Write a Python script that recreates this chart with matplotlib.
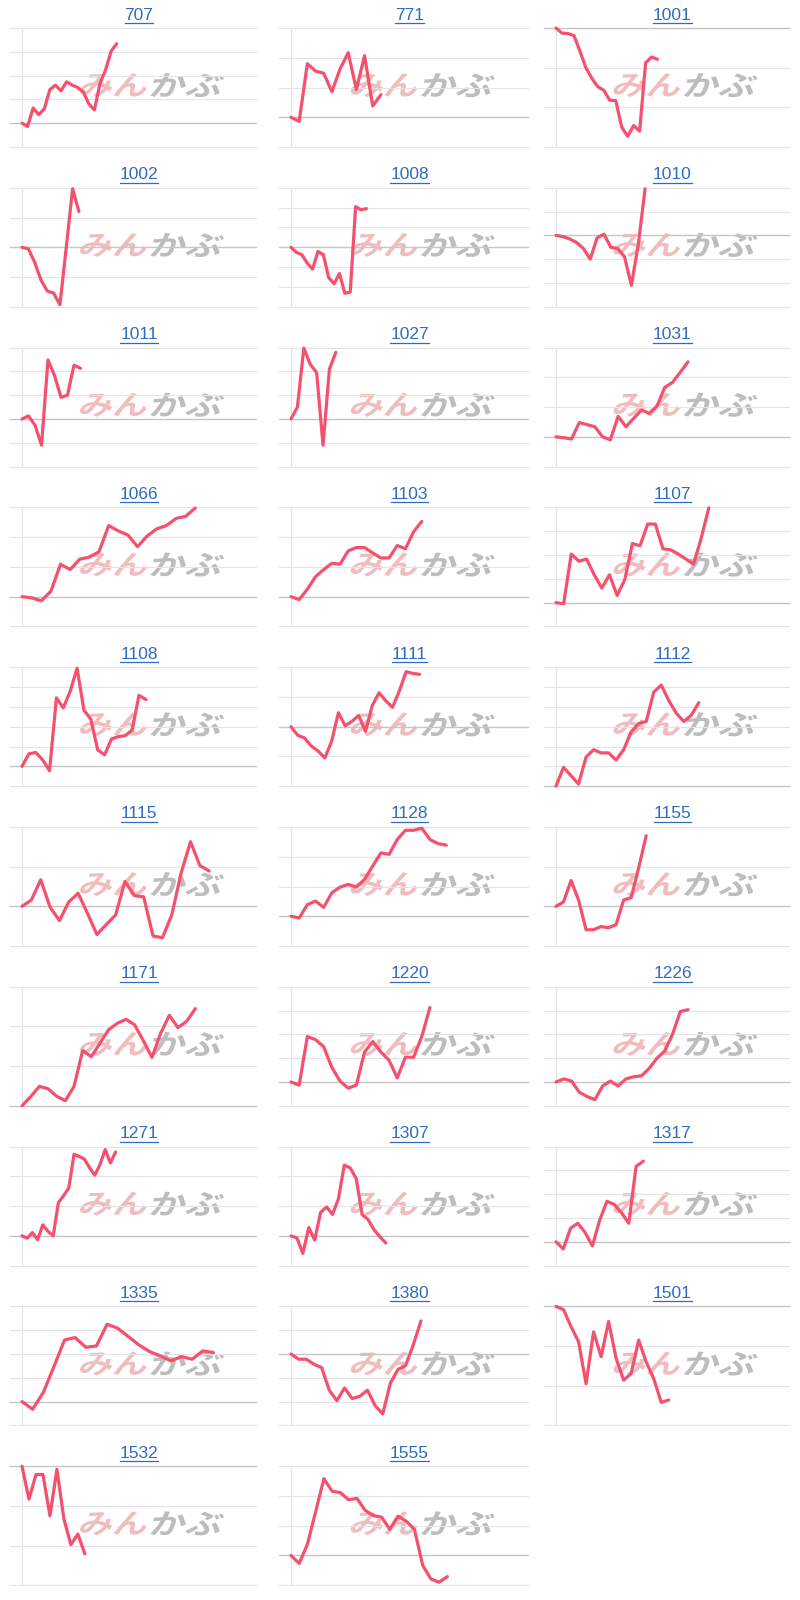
import math
import matplotlib
matplotlib.use('Agg')
import matplotlib.pyplot as plt
from matplotlib.lines import Line2D
from matplotlib.textpath import TextPath
from matplotlib.patches import PathPatch
from matplotlib.font_manager import FontProperties
from matplotlib.transforms import Affine2D, IdentityTransform

# 銘柄コード (表示順)
codes = ['707', '771', '1001', '1002', '1008', '1010', '1011', '1027', '1031',
         '1066', '1103', '1107', '1108', '1111', '1112', '1115', '1128', '1155',
         '1171', '1220', '1226', '1271', '1307', '1317', '1335', '1380', '1501',
         '1532', '1555']

# 値は目盛り間隔を 1 とした単位 (0 = 基準線)
s707 = [0, -0.14, 0.64, 0.36, 0.6, 1.41, 1.6, 1.36, 1.74, 1.6, 1.5, 1.31, 0.81, 0.56, 1.67, 2.24, 3.03, 3.34]
s771 = [0, -0.14, 1.8, 1.55, 1.48, 0.86, 1.62, 2.17, 0.93, 2.07, 0.38, 0.76]
s1001 = [0, -0.13, -0.14, -0.19, -0.58, -1.0, -1.27, -1.48, -1.57, -1.82, -1.83, -2.5, -2.73, -2.46, -2.6, -0.88, -0.73, -0.79]
s1002 = [0, -0.05, -0.5, -1.1, -1.47, -1.54, -1.93, 0.0, 1.97, 1.2]
s1008 = [0, -0.26, -0.37, -0.79, -1.1, -0.21, -0.37, -1.53, -1.84, -1.32, -2.32, -2.26, 2.05, 1.89, 1.95]
s1010 = [0, -0.05, -0.15, -0.3, -0.55, -1.0, -0.1, 0.05, -0.5, -0.55, -0.9, -2.1, -0.4, 1.96]
s1011 = [0, 0.13, -0.26, -1.1, 2.48, 1.83, 0.91, 1.0, 2.26, 2.13]
s1027 = [0, 0.5, 2.98, 2.3, 1.95, -1.1, 2.1, 2.8]
s1031 = [0, -0.03, -0.07, 0.48, 0.41, 0.34, 0.0, -0.1, 0.69, 0.34, 0.62, 0.9, 0.79, 1.03, 1.66, 1.83, 2.17, 2.52]
s1066 = [0, -0.04, -0.14, 0.18, 1.09, 0.91, 1.26, 1.33, 1.51, 2.39, 2.21, 2.07, 1.68, 2.04, 2.28, 2.39, 2.63, 2.7, 2.98]
s1103 = [0, -0.1, 0.25, 0.67, 0.91, 1.12, 1.09, 1.54, 1.65, 1.65, 1.47, 1.3, 1.3, 1.72, 1.61, 2.18, 2.53]
s1107 = [0, -0.05, 2.04, 1.74, 1.83, 1.17, 0.61, 1.17, 0.3, 0.96, 2.48, 2.39, 3.3, 3.3, 2.26, 2.22, 2.04, 1.83, 1.61, 2.7, 3.98]
s1108 = [0, 0.63, 0.7, 0.33, -0.22, 3.45, 2.95, 3.78, 4.95, 2.83, 2.38, 0.83, 0.58, 1.38, 1.5, 1.55, 1.83, 3.58, 3.37]
s1111 = [0, -0.29, -0.38, -0.65, -0.82, -1.05, -0.49, 0.47, 0.03, 0.18, 0.38, -0.16, 0.71, 1.14, 0.87, 0.65, 1.2, 1.85, 1.79, 1.76]
s1112 = [0, 0.95, 0.53, 0.11, 1.47, 1.84, 1.68, 1.68, 1.32, 1.84, 2.74, 3.16, 3.26, 4.74, 5.1, 4.32, 3.68, 3.26, 3.58, 4.21]
s1115 = [0, 0.16, 0.67, -0.02, -0.36, 0.11, 0.33, -0.18, -0.71, -0.46, -0.22, 0.63, 0.27, 0.24, -0.75, -0.79, -0.22, 0.84, 1.63, 1.03, 0.89]
s1128 = [0, -0.06, 0.39, 0.51, 0.3, 0.79, 0.98, 1.07, 0.98, 1.24, 1.69, 2.13, 2.08, 2.58, 2.89, 2.89, 2.96, 2.58, 2.44, 2.39]
s1155 = [0, 0.11, 0.65, 0.16, -0.59, -0.59, -0.51, -0.54, -0.46, 0.16, 0.22, 0.97, 1.78]
s1171 = [0, 0.23, 0.49, 0.43, 0.24, 0.13, 0.49, 1.39, 1.24, 1.58, 1.92, 2.08, 2.18, 2.04, 1.64, 1.22, 1.83, 2.28, 1.97, 2.13, 2.45]
s1220 = [0, -0.13, 1.91, 1.78, 1.48, 0.61, 0.04, -0.26, -0.13, 1.26, 1.7, 1.26, 0.91, 0.17, 1.04, 1.04, 1.91, 3.13]
s1226 = [0, 0.13, 0.04, -0.43, -0.61, -0.74, -0.17, 0.04, -0.17, 0.13, 0.22, 0.26, 0.57, 1.0, 1.3, 2.0, 2.96, 3.04]
s1271 = [0, -0.08, 0.11, -0.13, 0.37, 0.15, 0, 1.12, 1.35, 1.61, 2.74, 2.67, 2.58, 2.29, 2.04, 2.4, 2.9, 2.45, 2.82]
s1307 = [0, -0.07, -0.59, 0.28, -0.14, 0.79, 0.97, 0.72, 1.24, 2.38, 2.28, 1.93, 0.72, 0.55, 0.21, -0.03, -0.24]
s1317 = [0, -0.3, 0.57, 0.78, 0.39, -0.17, 0.91, 1.7, 1.57, 1.22, 0.78, 3.17, 3.39]
s1335 = [0, -0.32, 0.38, 1.47, 2.59, 2.69, 2.28, 2.34, 3.25, 3.08, 2.73, 2.38, 2.1, 1.92, 1.71, 1.89, 1.78, 2.13, 2.06]
s1380 = [0, -0.22, -0.22, -0.43, -0.57, -1.52, -1.96, -1.43, -1.87, -1.78, -1.52, -2.17, -2.52, -1.22, -0.65, -0.48, 0.39, 1.39]
s1501 = [0, -0.08, -0.51, -0.89, -1.95, -0.64, -1.27, -0.38, -1.31, -1.86, -1.69, -0.85, -1.4, -1.82, -2.42, -2.36]
s1532 = [0, -0.83, -0.21, -0.21, -1.25, -0.08, -1.33, -1.98, -1.71, -2.21]
s1555 = [0, -0.27, 0.38, 1.48, 2.58, 2.16, 2.11, 1.87, 1.92, 1.52, 1.34, 1.29, 0.88, 1.32, 1.15, 0.88, -0.33, -0.79, -0.9, -0.71]

series = [s707, s771, s1001, s1002, s1008, s1010, s1011, s1027, s1031,
          s1066, s1103, s1107, s1108, s1111, s1112, s1115, s1128, s1155,
          s1171, s1220, s1226, s1271, s1307, s1317, s1335, s1380, s1501,
          s1532, s1555]

# 横軸の長さ (点の数で数えた枠の幅)
x_span = [42, 29, 39, 37, 44, 34, 36, 37, 30,
          24.3, 29, 30.5, 34, 35, 31, 25, 29, 31,
          27, 29, 30, 45, 40, 32, 22, 31, 31,
          33.5, 28.8]

W, H = 800, 1600
row_h = 159.8
col_axis = [22, 291, 556]
col_right = [256, 528, 789]
pad_px = 12

line_col = '#f5506e'
grid_col = '#e4e4e4'
zero_col = '#c6c6c6'
title_col = '#2d6cc0'

wm_font = FontProperties(family=['Noto Sans CJK JP'], weight='bold')


def watermark(fig, text, x0, x1, yc, height, color):
    # 斜体っぽく横に伸ばしたロゴ文字 (ピクセル座標, 上から)
    path = TextPath((0, 0), text, size=100, prop=wm_font)
    ext = path.get_extents()
    sx = (x1 - x0) / ext.width
    sy = height / ext.height
    tr = (Affine2D()
          .translate(-ext.x0, -ext.y0 - ext.height / 2)
          .scale(sx, sy)
          .skew_deg(14, 0)
          .translate(x0 - height * 0.12, H - yc))
    fig.add_artist(PathPatch(tr.transform_path(path), transform=IdentityTransform(),
                             facecolor=color, edgecolor='none', zorder=1))


fig = plt.figure(figsize=(8, 16), dpi=100)
fig.patch.set_facecolor('white')

titles = []
for i, (code, vals, span) in enumerate(zip(codes, series, x_span)):
    r, c = divmod(i, 3)
    row_top = r * row_h
    top = row_top + 28
    bottom = row_top + 147
    left = col_axis[c] - pad_px
    right = col_right[c]

    # ウォーターマーク (線の下に)
    cx = col_axis[c] + 0.57 * (right - col_axis[c])
    cy = bottom - 0.52 * (bottom - top)
    watermark(fig, 'みん', cx - 71, cx - 5, cy, 24, '#f1bcbe')
    watermark(fig, 'かぶ', cx, cx + 70, cy, 24, '#bdbdbd')

    ax = fig.add_axes([left / W, 1 - bottom / H, (right - left) / W, (bottom - top) / H])
    ax.patch.set_alpha(0)
    ax.set_zorder(2)
    lo = math.floor(min(vals))
    hi = math.ceil(max(vals))
    pad = pad_px / (right - col_axis[c]) * span
    ax.set_xlim(-pad, span)
    ax.set_ylim(lo, hi)
    for k in range(lo, hi + 1):
        ax.axhline(k, color=zero_col if k == 0 else grid_col,
                   lw=1.0 if k == 0 else 0.8, zorder=0, clip_on=False)
    ax.axvline(0, color=grid_col, lw=0.8, zorder=0)
    ax.plot(range(len(vals)), vals, color=line_col, lw=2.3,
            solid_joinstyle='round', solid_capstyle='round', zorder=3, clip_on=False)
    ax.axis('off')

    tx = (col_axis[c] + right) / 2
    t = fig.text(tx / W, 1 - (row_top + 15) / H, code, ha='center', va='center',
                 fontsize=12.5, color=title_col, family='Liberation Sans')
    titles.append(t)

# タイトルの下線
fig.canvas.draw()
renderer = fig.canvas.get_renderer()
for t in titles:
    bb = t.get_window_extent(renderer)
    y = bb.y0 - 0.5
    fig.add_artist(Line2D([bb.x0 / W, bb.x1 / W], [y / H, y / H],
                          transform=fig.transFigure, color=title_col, lw=0.9))

fig.savefig('out.png', dpi=100, facecolor='white')
